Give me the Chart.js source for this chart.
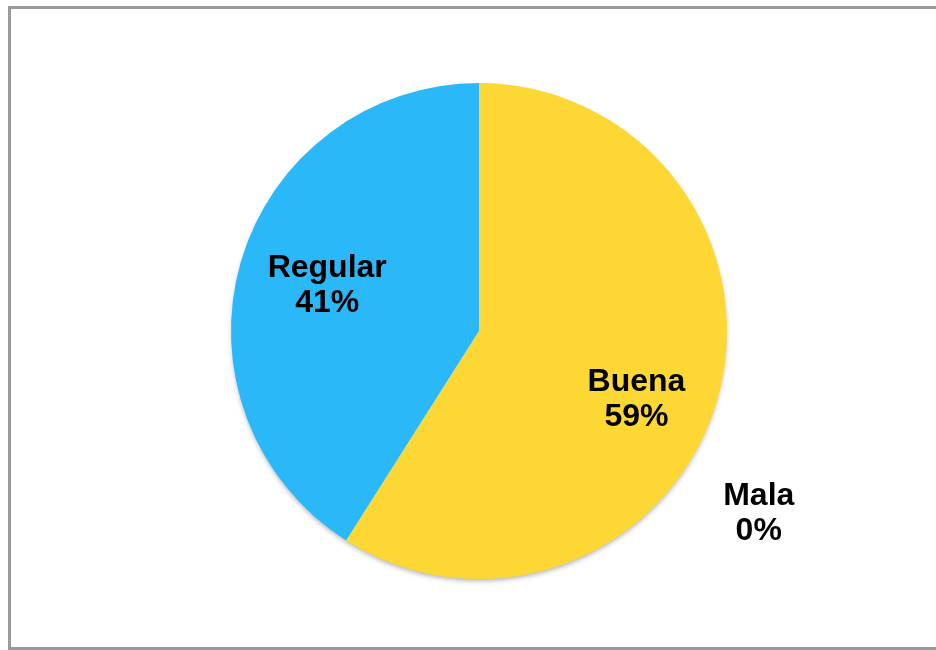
<!DOCTYPE html>
<html>
<head>
<meta charset="utf-8">
<script src="https://cdn.jsdelivr.net/npm/chart.js@4"></script>
<style>
  html, body { margin: 0; padding: 0; background: #fff; overflow: hidden; }
  #frame {
    position: absolute; left: 8px; top: 6px; width: 960px; height: 638px;
    border: 3px solid #9a9a9a;
  }
  #wrap { position: absolute; left: 0; top: 0; width: 936px; height: 650px; }
</style>
</head>
<body>
<div id="frame"></div>
<div id="wrap"><canvas id="myChart"></canvas></div>
<script>
// --- DATA ---
const categories = ['Buena', 'Regular', 'Mala'];
const percentages = [59, 41, 0];
const sliceColors = ['#FDD835', '#2BB8F8', '#A5A5A5'];

// where each label sits: angle clockwise from 12 o'clock (deg), distance as fraction of radius
const labelPlacement = [
    { angle: 113, dist: 0.69 },
    { angle: 287, dist: 0.64 },
    { angle: 123, dist: 1.345 }
];

// --- LABEL PLUGIN ---
const pieLabels = {
    id: 'pieLabels',
    beforeDatasetsDraw(chart) {
        // soft shadow under the whole pie
        const arc = chart.getDatasetMeta(0).data[0];
        const c = chart.ctx;
        c.save();
        c.shadowColor = 'rgba(0,0,0,0.3)';
        c.shadowBlur = 5;
        c.shadowOffsetY = 3;
        c.fillStyle = '#fff';
        c.beginPath();
        c.arc(arc.x, arc.y, arc.outerRadius - 1, 0, Math.PI * 2);
        c.fill();
        c.restore();
    },
    afterDatasetsDraw(chart) {
        const c = chart.ctx;
        const arc = chart.getDatasetMeta(0).data[0];
        const cx = arc.x, cy = arc.y, r = arc.outerRadius;
        c.save();
        c.fillStyle = '#000';
        c.font = 'bold 32px "Liberation Sans", Arial, sans-serif';
        c.textAlign = 'center';
        c.textBaseline = 'middle';
        categories.forEach((name, i) => {
            const p = labelPlacement[i];
            const a = p.angle * Math.PI / 180;
            const x = cx + Math.sin(a) * r * p.dist;
            const y = cy - Math.cos(a) * r * p.dist;
            c.fillText(name, x, y - 16);
            c.fillText(percentages[i] + '%', x, y + 19);
        });
        c.restore();
    }
};

// --- CHART ---
const ctx = document.getElementById('myChart').getContext('2d');
new Chart(ctx, {
    type: 'pie',
    data: {
        labels: categories,
        datasets: [{
            data: percentages,
            backgroundColor: sliceColors,
            borderWidth: 0
        }]
    },
    options: {
        responsive: true,
        maintainAspectRatio: false,
        animation: false,
        layout: { padding: { left: 230, right: 208, top: 83, bottom: 71 } },
        plugins: {
            legend: { display: false },
            tooltip: { enabled: false }
        }
    },
    plugins: [pieLabels]
});
</script>
</body>
</html>
